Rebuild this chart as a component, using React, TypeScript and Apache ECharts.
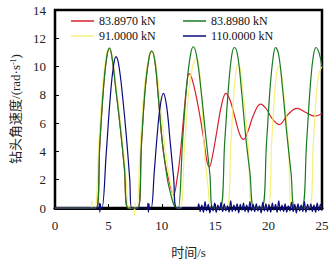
import React, { useEffect, useRef } from "react";
import * as echarts from "echarts";

const seriesNames = ["83.8970 kN", "83.8980 kN", "91.0000 kN", "110.0000 kN"];
const seriesColors = ["#d8202c", "#1a7a22", "#f6f07c", "#0c0c7a"];
const xTickValues = [0, 5, 10, 15, 20, 25];
const yTickValues = [0, 2, 4, 6, 8, 10, 12, 14];

// time (s), angular velocity (rad/s)
const red83897: number[][] = [
  [0, 0], [3.85, 0], [4.2, 4.6], [4.55, 8.6], [4.85, 10.7], [5.1, 11.3], [5.35, 10.6], [5.7, 8.4], [6.1, 5.8], [6.5, 2.8], [6.85, 0],
  [7.75, 0], [8.1, 4.6], [8.45, 8.5], [8.8, 10.6], [9.05, 11.1], [9.35, 10.4], [9.67, 7.9], [10.0, 5.0], [10.3, 3.2],
  [10.75, 1.7], [11.1, 0.92], [11.4, 1.9], [11.7, 3.6], [12.1, 6.9], [12.35, 8.8], [12.55, 9.5], [12.8, 9.2], [13.25, 7.8],
  [13.9, 5.0], [14.2, 3.4], [14.45, 2.9], [14.7, 3.5], [15.15, 5.4], [15.6, 7.3], [16.0, 8.1], [16.4, 7.6], [16.85, 6.4],
  [17.3, 5.2], [17.65, 4.85], [18.1, 5.5], [18.6, 6.6], [19.25, 7.35], [19.8, 7.0], [20.3, 6.35], [21.0, 5.9], [21.8, 6.6],
  [22.65, 7.05], [23.5, 6.75], [24.3, 6.5], [25, 6.66],
];

const green83898: number[][] = [
  [0, 0], [3.85, 0], [4.2, 4.6], [4.55, 8.6], [4.85, 10.7], [5.1, 11.3], [5.35, 10.6], [5.7, 8.4], [6.1, 5.8], [6.5, 2.8], [6.85, 0],
  [7.75, 0], [8.1, 4.6], [8.45, 8.5], [8.8, 10.6], [9.05, 11.1], [9.35, 10.4], [9.67, 7.9], [10.0, 5.0], [10.3, 3.2], [10.7, 1.4], [11.4, 0],
  [11.55, 0], [11.95, 4.8], [12.35, 8.8], [12.7, 10.9], [12.95, 11.4], [13.25, 10.8], [13.65, 8.5], [14.1, 5.2], [14.5, 2.4], [14.8, 0],
  [15.45, 0], [15.9, 4.8], [16.25, 8.6], [16.55, 10.8], [16.8, 11.35], [17.1, 10.8], [17.45, 8.4], [17.85, 5.1], [18.25, 2.5], [18.66, 0],
  [19.35, 0], [19.82, 4.8], [20.15, 8.6], [20.45, 10.8], [20.65, 11.35], [20.95, 10.8], [21.3, 8.5], [21.7, 5.3], [22.1, 2.5], [22.47, 0],
  [23.1, 0], [23.57, 4.8], [23.9, 8.6], [24.2, 10.8], [24.45, 11.35], [24.75, 10.9], [25, 10.0],
];

const yellow91: number[][] = [
  [0, 0], [3.4, 0], [3.45, 0.5], [3.5, 0], [3.75, 0], [4.1, 4.6], [4.47, 8.7], [4.8, 10.8], [5.08, 11.3], [5.35, 10.7], [5.75, 8.4],
  [6.2, 5.6], [6.6, 2.6], [6.98, 0],
  [7.4, 0], [7.45, -0.5], [7.5, 0.4], [7.55, 0],
  [7.65, 0], [8.0, 4.6], [8.4, 8.8], [8.8, 10.7], [9.1, 11.0], [9.4, 10.4], [9.75, 8.2], [10.1, 5.6], [10.45, 3.4], [10.9, 1.4], [11.45, 0],
  [11.75, 0], [12.15, 4.6], [12.55, 8.4], [12.95, 10.2], [13.27, 10.6], [13.5, 9.9], [13.75, 7.4], [14.04, 3.6], [14.35, 1.4], [14.65, 0],
  [16.05, 0], [16.48, 4.8], [16.8, 8.6], [17.0, 9.9], [17.16, 10.2], [17.35, 9.8], [17.7, 7.6], [18.1, 4.3], [18.52, 0],
  [19.9, 0], [20.3, 4.8], [20.6, 8.5], [20.8, 9.7], [20.97, 10.0], [21.2, 9.5], [21.5, 7.5], [21.85, 4.6], [22.2, 0],
  [23.8, 0], [24.2, 4.8], [24.5, 8.3], [24.75, 9.6], [25, 10.0],
];

const blue110: number[][] = [
  [0, 0], [4.1, 0], [4.15, 0.35], [4.2, -0.3], [4.25, 0.3], [4.3, 0], [4.4, 0], [4.8, 3.9], [5.15, 7.6], [5.45, 9.9], [5.71, 10.7],
  [5.95, 10.2], [6.3, 8.1], [6.7, 4.9], [7.0, 2.0], [7.18, 0],
  [8.65, 0], [8.7, 0.35], [8.75, -0.3], [8.8, 0.3], [8.85, 0],
  [9.0, 0], [9.3, 2.6], [9.55, 5.0], [9.85, 7.2], [10.15, 8.1], [10.45, 7.2], [10.77, 4.8], [11.1, 2.2], [11.4, 0],
  [13.3, 0],
];

const blue110Noise: number[][] = [
  [13.45, 0.3], [13.6, -0.25], [13.75, 0.2], [13.9, -0.3], [14.05, 0.45], [14.2, -0.2], [14.35, 0.25], [14.5, -0.35],
  [14.65, 0.15], [14.8, -0.2], [14.95, 0.35], [15.1, -0.3], [15.25, 0.2], [15.4, -0.15], [15.55, 0.4], [15.7, -0.25],
  [15.85, 0.3], [16.0, -0.2], [16.15, 0.15], [16.3, -0.3], [16.45, 0.5], [16.6, -0.25], [16.75, 0.2], [16.9, -0.2],
  [17.05, 0.3], [17.2, -0.35], [17.35, 0.25], [17.5, -0.15], [17.65, 0.35], [17.8, -0.25], [17.95, 0.2], [18.1, -0.3],
  [18.25, 0.45], [18.4, -0.2], [18.55, 0.25], [18.7, -0.25], [18.85, 0.3], [19.0, -0.2], [19.15, 0.15], [19.3, -0.35],
  [19.45, 0.4], [19.6, -0.2], [19.75, 0.3], [19.9, -0.25], [20.05, 0.2], [20.2, -0.3], [20.35, 0.35], [20.5, -0.15],
  [20.65, 0.25], [20.8, -0.3], [20.95, 0.5], [21.1, -0.2], [21.25, 0.2], [21.4, -0.25], [21.55, 0.3], [21.7, -0.3],
  [21.85, 0.15], [22.0, -0.2], [22.15, 0.4], [22.3, -0.25], [22.45, 0.25], [22.6, -0.35], [22.75, 0.3], [22.9, -0.2],
  [23.05, 0.2], [23.2, -0.25], [23.35, 0.45], [23.5, -0.3], [23.65, 0.25], [23.8, -0.15], [23.95, 0.3], [24.1, -0.25],
  [24.25, 0.2], [24.4, -0.3], [24.55, 0.35], [24.7, -0.2], [24.85, 0.25], [25.0, -0.2],
];

const SERIF = '"Liberation Serif", "Times New Roman", "Noto Sans CJK SC", serif';

export default function App() {
  const ref = useRef<HTMLDivElement>(null);
  useEffect(() => {
    if (!ref.current) return;
    const chart = echarts.init(ref.current, undefined, { renderer: "svg" });
    const legendPos = [
      { left: 71, top: 15 },
      { left: 183, top: 15 },
      { left: 71, top: 30 },
      { left: 183, top: 30 },
    ];
    const dataList = [red83897, green83898, yellow91, blue110.concat(blue110Noise)];
    const drawOrder = [0, 2, 1, 3];
    chart.setOption({
      animation: false,
      backgroundColor: "#fff",
      legend: seriesNames.map((n, i) => ({
        data: [n],
        left: legendPos[i].left,
        top: legendPos[i].top,
        padding: 0,
        icon: "rect",
        itemWidth: 23,
        itemHeight: 1.5,
        selectedMode: false,
        textStyle: { fontFamily: SERIF, fontSize: 12, color: "#111" },
      })),
      grid: {
        left: 55,
        right: 14,
        top: 10,
        bottom: 64,
        show: true,
        borderColor: "#000",
        borderWidth: 2.5,
      },
      xAxis: {
        type: "value",
        min: 0,
        max: 25,
        interval: 5,
        name: "时间/s",
        nameLocation: "middle",
        nameGap: 38,
        nameTextStyle: { fontFamily: SERIF, fontSize: 13, color: "#222", fontWeight: "normal" },
        axisLine: { show: true, lineStyle: { color: "#000", width: 3 } },
        axisTick: { show: true, inside: true, length: 4, lineStyle: { color: "#000" } },
        axisLabel: { fontFamily: SERIF, fontSize: 13, color: "#222", margin: 11 },
        splitLine: { show: false },
      },
      yAxis: {
        type: "value",
        min: 0,
        max: 14,
        interval: 2,
        name: "{a|钻头角速度/(rad·s}{b|-1}{a|)}",
        nameLocation: "middle",
        nameGap: 31,
        nameTextStyle: {
          rich: {
            a: { fontFamily: SERIF, fontSize: 13, color: "#222" },
            b: { fontFamily: SERIF, fontSize: 8, color: "#222", verticalAlign: "top" },
          },
        },
        axisLine: { show: true, lineStyle: { color: "#000", width: 2 } },
        axisTick: { show: true, inside: true, length: 4, lineStyle: { color: "#000" } },
        axisLabel: { fontFamily: SERIF, fontSize: 13, color: "#222", margin: 9 },
        splitLine: { show: false },
      },
      series: drawOrder.map((i) => ({
        name: seriesNames[i],
        type: "line",
        data: dataList[i],
        symbol: "none",
        smooth: 0.4,
        clip: false,
        color: seriesColors[i],
        lineStyle: { width: 1.2, color: seriesColors[i] },
      })),
    });
    return () => chart.dispose();
  }, []);
  return (
    <div
      ref={ref}
      style={{ position: "fixed", left: 0, top: 0, width: 336, height: 272, background: "#fff" }}
    />
  );
}
